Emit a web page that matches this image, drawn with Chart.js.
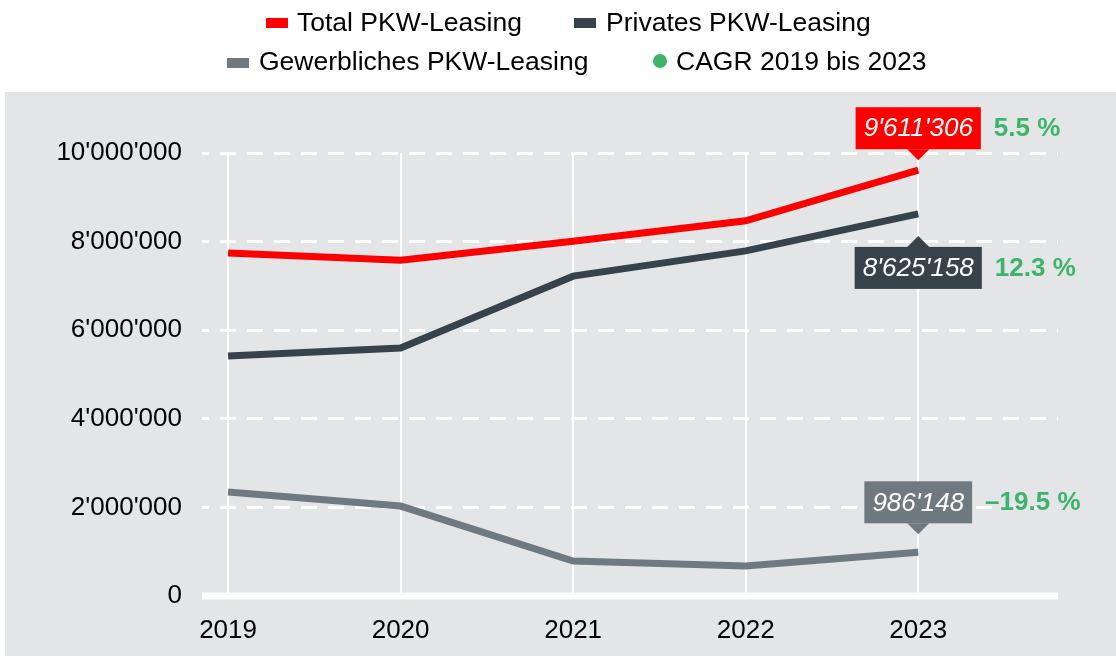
<!DOCTYPE html>
<html>
<head>
<meta charset="utf-8">
<script src="https://cdn.jsdelivr.net/npm/chart.js@4.4.1/dist/chart.umd.min.js"></script>
<style>
  html, body { margin: 0; padding: 0; background: #ffffff; }
  #wrap { position: relative; width: 1116px; height: 663px; overflow: hidden; }
  #c { position: absolute; left: 0; top: 0; }
  .lg { position: absolute; font-family: "Liberation Sans", Arial, sans-serif; font-size: 26.5px; color: #000; line-height: 30px; white-space: nowrap; }
  .sw { position: absolute; }
</style>
</head>
<body>
<div id="wrap">
  <canvas id="c" width="1116" height="663"></canvas>
  <div class="sw" style="left:266px;top:18px;width:22px;height:10px;background:#ff0000"></div>
  <div class="lg" style="left:297px;top:7px">Total PKW-Leasing</div>
  <div class="sw" style="left:574px;top:18px;width:22px;height:10px;background:#37434b"></div>
  <div class="lg" style="left:606px;top:7px">Privates PKW-Leasing</div>
  <div class="sw" style="left:227px;top:58px;width:22px;height:10px;background:#6f7a80"></div>
  <div class="lg" style="left:259px;top:46px">Gewerbliches PKW-Leasing</div>
  <div class="sw" style="left:653px;top:54px;width:14px;height:14px;border-radius:7px;background:#3db36b"></div>
  <div class="lg" style="left:676px;top:46px">CAGR 2019 bis 2023</div>
</div>
<script>
// ---- data ----
const years = [2019, 2020, 2021, 2022, 2023];
const totalLeasing = [7740000, 7580000, 8010000, 8470000, 9611306];
const privatLeasing = [5420000, 5600000, 7220000, 7790000, 8625158];
const gewerbLeasing = [2350000, 2030000, 790000, 680000, 986148];
const seriesNames = ['Total PKW-Leasing', 'Privates PKW-Leasing', 'Gewerbliches PKW-Leasing'];
const cagrLabels = ['5.5 %', '12.3 %', '\u201319.5 %'];
const yTicks = [0, 2000000, 4000000, 6000000, 8000000, 10000000];

// ---- styles ----
const colors = ['#ff0000', '#37434b', '#6f7a80'];
const green = '#3db36b';
const FONT = '"Liberation Sans", Arial, sans-serif';

function fmt(v) {
  return String(Math.round(v)).replace(/\B(?=(\d{3})+(?!\d))/g, "'");
}

const seriesValues = [totalLeasing, privatLeasing, gewerbLeasing];
const datasets = seriesValues.map((vals, i) => ({
  label: seriesNames[i],
  data: years.map((y, k) => ({ x: y, y: vals[k] })),
  borderColor: colors[i],
  backgroundColor: colors[i],
  borderWidth: 7,
  borderCapStyle: 'butt',
  borderJoinStyle: 'miter',
  pointRadius: 0,
  pointHoverRadius: 0,
  tension: 0,
  fill: false
}));

// label placement (styling): box vertical offset relative to end point
const labelPlace = [
  { dir: 'above', gap: 21 },
  { dir: 'below', gap: 33 },
  { dir: 'above', gap: 29 }
];

const bgPlugin = {
  id: 'bgPanel',
  beforeDraw(chart) {
    const ctx = chart.ctx;
    ctx.save();
    ctx.fillStyle = '#e4e5e7';
    ctx.fillRect(5, 92, 1111, 564);
    ctx.restore();
  },
  beforeDatasetsDraw(chart) {
    const ctx = chart.ctx;
    const a = chart.chartArea;
    const y0 = chart.scales.y.getPixelForValue(0);
    ctx.save();
    ctx.strokeStyle = '#ffffff';
    ctx.lineWidth = 7;
    ctx.beginPath();
    ctx.moveTo(a.left, y0);
    ctx.lineTo(a.right, y0);
    ctx.stroke();
    ctx.restore();
  },
  afterDatasetsDraw(chart) {
    const ctx = chart.ctx;
    ctx.save();
    seriesValues.forEach((vals, i) => {
      const meta = chart.getDatasetMeta(i);
      const pt = meta.data[meta.data.length - 1];
      const px = pt.x, py = pt.y;
      const txt = fmt(vals[vals.length - 1]);
      ctx.font = 'italic 26px ' + FONT;
      const tw = ctx.measureText(txt).width;
      const bw = tw + 16, bh = 42;
      const place = labelPlace[i];
      let top, tipY, baseY;
      if (place.dir === 'above') {
        top = py - place.gap - bh;
        baseY = top + bh;
        tipY = baseY + 11;
      } else {
        top = py + place.gap;
        baseY = top;
        tipY = top - 11;
      }
      const left = px - bw / 2;
      ctx.fillStyle = colors[i];
      ctx.fillRect(left, top, bw, bh);
      ctx.beginPath();
      ctx.moveTo(px - 11, baseY);
      ctx.lineTo(px, tipY);
      ctx.lineTo(px + 11, baseY);
      ctx.closePath();
      ctx.fill();
      ctx.fillStyle = '#ffffff';
      ctx.textAlign = 'center';
      ctx.textBaseline = 'middle';
      ctx.fillText(txt, px, top + bh / 2 + 1);
      ctx.font = 'bold 26px ' + FONT;
      ctx.fillStyle = green;
      ctx.textAlign = 'left';
      ctx.fillText(cagrLabels[i], left + bw + 13, top + bh / 2 + 1);
    });
    ctx.restore();
  }
};

new Chart(document.getElementById('c'), {
  type: 'line',
  data: { datasets },
  plugins: [bgPlugin],
  options: {
    responsive: false,
    animation: false,
    devicePixelRatio: 1,
    layout: { padding: { top: 153, right: 58, bottom: 0, left: 0 } },
    plugins: {
      legend: { display: false },
      tooltip: { enabled: false }
    },
    scales: {
      x: {
        type: 'linear',
        min: 2018.849,
        max: 2023.81,
        afterBuildTicks(scale) { scale.ticks = years.map(v => ({ value: v })); },
        afterFit(scale) { scale.height = 67; },
        grid: { color: '#ffffff', lineWidth: 2, drawTicks: false },
        border: { display: false },
        ticks: {
          padding: 19,
          color: '#000000',
          font: { family: FONT, size: 26 },
          maxRotation: 0,
          callback: v => String(v)
        }
      },
      y: {
        min: 0,
        max: 10000000,
        afterBuildTicks(scale) { scale.ticks = yTicks.map(v => ({ value: v })); },
        afterFit(scale) { scale.width = 202; },
        grid: {
          color: ctx => (ctx.tick && ctx.tick.value === 0) ? 'rgba(0,0,0,0)' : '#ffffff',
          lineWidth: 3,
          drawTicks: false
        },
        border: { display: false, dash: [16, 11], dashOffset: 9 },
        ticks: {
          padding: 20,
          color: '#000000',
          font: { family: FONT, size: 26 },
          callback: v => fmt(v)
        }
      }
    }
  }
});
</script>
</body>
</html>
